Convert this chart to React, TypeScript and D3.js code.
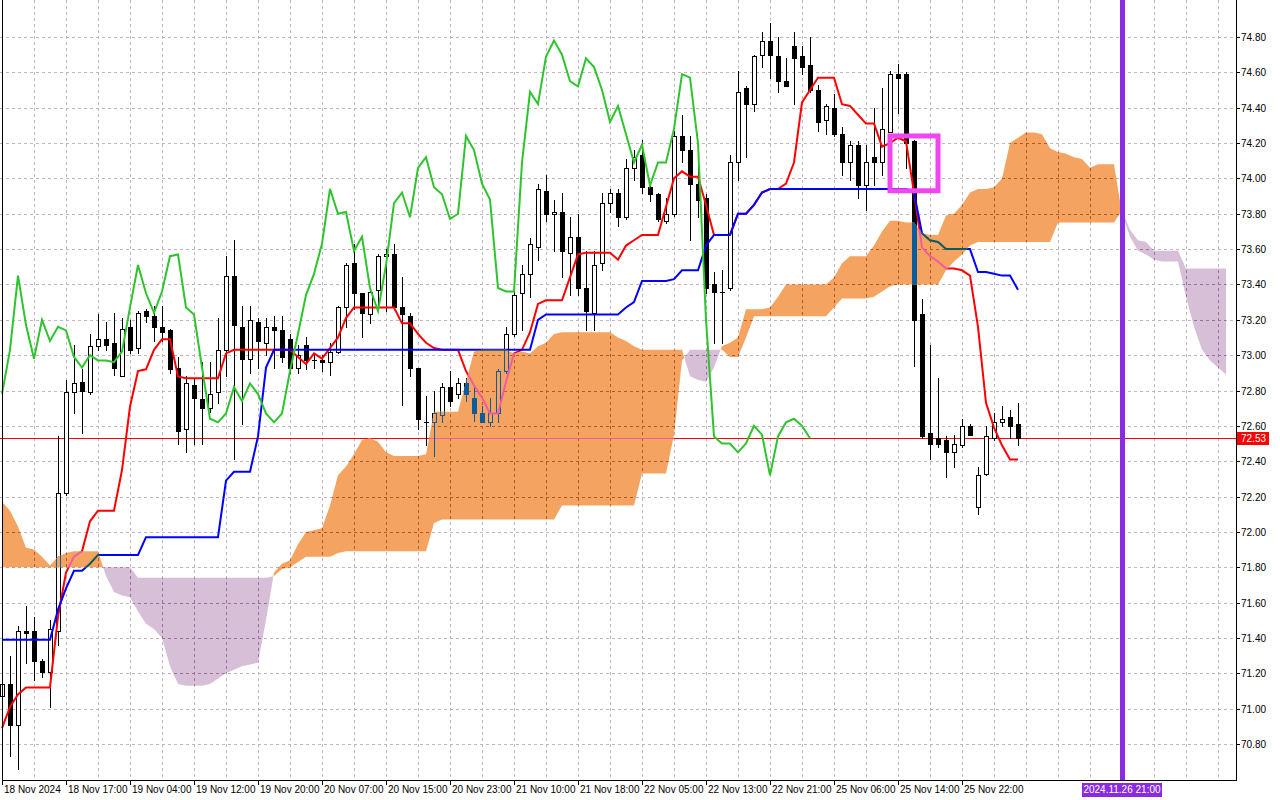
import { useEffect, useRef } from "react";
import * as d3 from "d3";

// hourly candles, bar index 0 = 18 Nov 2024 start of view
const OPEN = [
  71.07, 71.14, 70.91, 71.44, 71.44, 71.27, 71.21, 71.44, 72.22, 72.79, 72.85, 72.79, 73.05, 73.09, 73.07, 72.88,
  73.16, 73.04, 73.25, 73.22, 73.16, 73.14, 72.93, 72.58, 72.83, 72.75, 72.7, 72.79, 73.03, 73.45, 73.16, 72.98,
  73.19, 73.07, 73.16, 73.14, 73.09, 72.93, 73.06, 72.97, 72.97, 72.96, 73.02, 73.27, 73.52, 73.35, 73.23, 73.37,
  73.56, 73.57, 73.27, 73.22, 72.93, 72.62, 72.62, 72.66, 72.82, 72.78, 72.84, 72.76, 72.67, 72.62, 72.67, 72.91,
  73.12, 73.35, 73.46, 73.61, 73.93, 73.8, 73.81, 73.58, 73.67, 73.38, 73.24, 73.52, 73.86, 73.92, 73.78, 74.06,
  74.13, 73.95, 73.91, 73.76, 73.8, 74.24, 74.16, 73.97, 73.89, 73.4, 73.36, 73.38, 74.09, 74.51, 74.42, 74.7,
  74.78, 74.69, 74.55, 74.75, 74.69, 74.64, 74.5, 74.33, 74.4, 74.25, 74.09, 74.19, 73.96, 74.12, 74.09, 74.26,
  74.59, 74.59, 74.21, 73.23, 72.56, 72.53, 72.52, 72.45, 72.49, 72.6, 72.14, 72.33, 72.53, 72.62, 72.65, 72.61,
];
const HIGH = [
  71.17, 71.3, 71.47, 71.58, 71.52, 71.28, 71.5, 72.54, 72.86, 73.06, 72.92, 73.12, 73.23, 73.19, 73.24, 73.21,
  73.2, 73.25, 73.26, 73.28, 73.28, 73.15, 72.99, 72.88, 72.87, 72.96, 72.96, 73.21, 73.56, 73.65, 73.28, 73.28,
  73.21, 73.21, 73.22, 73.22, 73.12, 73.06, 73.1, 73.0, 73.0, 73.07, 73.28, 73.52, 73.63, 73.35, 73.37, 73.57,
  73.6, 73.63, 73.44, 73.24, 72.93, 72.77, 72.8, 72.84, 72.91, 72.87, 72.87, 72.82, 72.71, 72.76, 72.92, 73.16,
  73.36, 73.51, 73.66, 73.97, 74.02, 73.88, 73.92, 73.78, 73.8, 73.59, 73.59, 73.92, 73.94, 73.94, 74.11, 74.16,
  74.22, 73.96, 73.92, 73.89, 74.27, 74.36, 74.24, 74.07, 73.91, 73.47, 73.48, 74.13, 74.61, 74.52, 74.7, 74.83,
  74.88, 74.8, 74.68, 74.83, 74.75, 74.8, 74.53, 74.42, 74.48, 74.29, 74.21, 74.21, 74.19, 74.4, 74.51, 74.61,
  74.65, 74.6, 74.22, 73.32, 73.06, 72.87, 72.54, 72.55, 72.64, 72.61, 72.37, 72.6, 72.67, 72.71, 72.69, 72.73,
];
const LOW = [
  70.98, 70.73, 70.66, 71.26, 71.16, 71.18, 71.01, 71.36, 72.21, 72.67, 72.56, 72.78, 73.03, 73.03, 72.89, 72.88,
  73.01, 73.01, 73.19, 73.08, 73.08, 72.9, 72.5, 72.45, 72.5, 72.5, 72.68, 72.73, 72.88, 72.41, 72.61, 72.9,
  72.93, 73.0, 72.93, 72.96, 72.9, 72.9, 72.92, 72.93, 72.91, 72.89, 73.01, 73.16, 73.26, 73.1, 73.18, 73.27,
  73.25, 73.26, 72.72, 72.88, 72.58, 72.49, 72.43, 72.62, 72.71, 72.76, 72.74, 72.63, 72.62, 72.6, 72.62, 72.9,
  73.11, 73.14, 73.33, 73.54, 73.76, 73.59, 73.44, 73.34, 73.34, 73.14, 73.14, 73.48, 73.81, 73.73, 73.77, 73.99,
  73.92, 73.87, 73.76, 73.75, 73.79, 74.09, 73.65, 73.78, 73.35, 73.07, 73.07, 73.37, 73.99, 74.12, 74.38, 74.63,
  74.57, 74.49, 74.52, 74.42, 74.59, 74.49, 74.27, 74.25, 74.24, 74.02, 73.99, 73.89, 73.82, 73.96, 74.02, 74.26,
  74.37, 74.06, 72.94, 72.53, 72.41, 72.48, 72.31, 72.37, 72.48, 72.55, 72.1, 72.32, 72.52, 72.6, 72.53, 72.49,
];
const CLOSE = [
  71.14, 70.91, 71.44, 71.43, 71.27, 71.21, 71.45, 72.22, 72.79, 72.84, 72.8, 73.05, 73.09, 73.06, 72.93, 73.15,
  73.03, 73.24, 73.22, 73.16, 73.13, 72.92, 72.57, 72.84, 72.76, 72.7, 72.78, 73.03, 73.45, 73.17, 72.98, 73.2,
  73.08, 73.16, 73.14, 72.99, 72.93, 73.0, 72.97, 72.97, 72.96, 73.02, 73.27, 73.51, 73.35, 73.24, 73.36, 73.56,
  73.57, 73.27, 73.23, 72.93, 72.64, 72.62, 72.67, 72.82, 72.74, 72.84, 72.78, 72.67, 72.62, 72.67, 72.91, 73.12,
  73.34, 73.46, 73.63, 73.94, 73.8, 73.81, 73.59, 73.67, 73.38, 73.25, 73.51, 73.86, 73.92, 73.78, 74.06, 74.12,
  73.95, 73.91, 73.77, 73.8, 74.24, 74.16, 73.97, 73.88, 73.38, 73.36, 73.36, 74.09, 74.49, 74.42, 74.69, 74.78,
  74.7, 74.55, 74.52, 74.68, 74.63, 74.5, 74.32, 74.41, 74.25, 74.09, 74.19, 73.96, 74.09, 74.09, 74.28, 74.59,
  74.57, 74.2, 73.2, 72.54, 72.5, 72.5, 72.45, 72.5, 72.6, 72.55, 72.32, 72.54, 72.62, 72.64, 72.6, 72.53,
];

// Ichimoku lines
const TENKAN = [
  70.89, 71.01, 71.08, 71.12, 71.12, 71.12, 71.12, 71.52, 71.77, 71.86, 71.89, 72.06, 72.12, 72.12, 72.12, 72.35,
  72.71, 72.91, 72.92, 73.03, 73.09, 73.09, 72.88, 72.87, 72.87, 72.87, 72.87, 72.87, 73.01, 73.03, 73.03, 73.03,
  73.03, 73.03, 73.03, 73.03, 73.03, 72.99, 72.95, 73.01, 72.98, 73.04, 73.1, 73.21, 73.27, 73.27, 73.27, 73.27,
  73.27, 73.27, 73.18, 73.18, 73.12, 73.07, 73.04, 73.03, 73.03, 73.03, 72.91, 72.83, 72.76, 72.67, 72.67, 72.85,
  73.01, 73.03, 73.13, 73.29, 73.31, 73.31, 73.31, 73.44, 73.57, 73.58, 73.58, 73.58, 73.58, 73.54, 73.62, 73.65,
  73.68, 73.68, 73.68, 73.84, 74.0, 74.04, 74.01, 74.01, 73.85, 73.68, 73.68, 73.68, 73.8, 73.8, 73.85, 73.92,
  73.94, 73.94, 73.97, 74.09, 74.43, 74.5, 74.57, 74.57, 74.57, 74.42, 74.41, 74.36, 74.31, 74.31, 74.18, 74.2,
  74.23, 74.21, 73.92, 73.61, 73.56, 73.53, 73.49, 73.49, 73.48, 73.45, 73.16, 72.73, 72.59, 72.49, 72.41, 72.41,
];
const KIJUN = [
  71.39, 71.39, 71.39, 71.39, 71.39, 71.39, 71.39, 71.56, 71.68, 71.78, 71.78, 71.82, 71.87, 71.87, 71.87, 71.87,
  71.87, 71.87, 71.97, 71.97, 71.97, 71.97, 71.97, 71.97, 71.97, 71.97, 71.97, 71.97, 72.29, 72.34, 72.34, 72.34,
  72.54, 72.93, 73.03, 73.03, 73.03, 73.03, 73.03, 73.03, 73.03, 73.03, 73.03, 73.03, 73.03, 73.03, 73.03, 73.03,
  73.03, 73.03, 73.03, 73.03, 73.03, 73.03, 73.03, 73.03, 73.03, 73.03, 73.03, 73.03, 73.03, 73.03, 73.03, 73.03,
  73.03, 73.03, 73.03, 73.2, 73.23, 73.23, 73.23, 73.23, 73.23, 73.23, 73.23, 73.23, 73.23, 73.23, 73.27, 73.3,
  73.42, 73.42, 73.42, 73.42, 73.43, 73.48, 73.48, 73.48, 73.62, 73.68, 73.68, 73.68, 73.8, 73.8, 73.85, 73.92,
  73.94, 73.94, 73.94, 73.94, 73.94, 73.94, 73.94, 73.94, 73.94, 73.94, 73.94, 73.94, 73.94, 73.94, 73.94, 73.94,
  73.94, 73.94, 73.92, 73.69, 73.65, 73.64, 73.6, 73.6, 73.6, 73.6, 73.47, 73.47, 73.46, 73.45, 73.45, 73.37,
];
// cloud spans, already projected 26 bars ahead (bars 0..153)
const SPAN_A = [
  72.17, 72.12, 72.03, 71.91, 71.9, 71.86, 71.81, 71.86, 71.88, 71.89, 71.89, 71.89, 71.89, 71.75, 71.66, 71.64,
  71.63, 71.55, 71.48, 71.45, 71.4, 71.24, 71.14, 71.13, 71.13, 71.13, 71.14, 71.17, 71.2, 71.22, 71.24, 71.25,
  71.26, 71.5, 71.77, 71.82, 71.84, 71.93, 72.0, 72.01, 72.02, 72.15, 72.32, 72.37, 72.44, 72.52, 72.53, 72.51,
  72.45, 72.43, 72.43, 72.43, 72.43, 72.44, 72.68, 72.68, 72.68, 72.68, 72.85, 73.02, 73.03, 73.03, 73.03, 73.03,
  73.01, 73.02, 73.01, 73.05, 73.07, 73.12, 73.13, 73.13, 73.13, 73.13, 73.13, 73.13, 73.13, 73.1, 73.08, 73.05,
  73.03, 73.03, 73.03, 73.03, 73.03, 73.03, 72.88, 72.86, 72.85, 72.93, 73.05, 73.07, 73.1, 73.26, 73.26, 73.26,
  73.27, 73.33, 73.4, 73.4, 73.4, 73.4, 73.4, 73.4, 73.44, 73.52, 73.56, 73.56, 73.56, 73.62, 73.7, 73.76,
  73.76, 73.75, 73.75, 73.69, 73.68, 73.68, 73.79, 73.8, 73.85, 73.92, 73.94, 73.94, 73.95, 74.0, 74.2, 74.23,
  74.26, 74.26, 74.25, 74.17, 74.15, 74.14, 74.12, 74.11, 74.06, 74.08, 74.08, 74.08, 73.8, 73.67, 73.59, 73.57,
  73.54, 73.53, 73.53, 73.53, 73.33, 73.16, 73.03, 72.97, 72.93, 72.89,
];
const SPAN_B = [
  71.8, 71.8, 71.8, 71.8, 71.8, 71.8, 71.8, 71.8, 71.8, 71.8, 71.8, 71.8, 71.8, 71.8, 71.8, 71.8,
  71.8, 71.74, 71.74, 71.74, 71.74, 71.74, 71.74, 71.74, 71.74, 71.74, 71.74, 71.74, 71.74, 71.74, 71.74, 71.74,
  71.74, 71.74, 71.75, 71.79, 71.8, 71.83, 71.86, 71.86, 71.86, 71.86, 71.88, 71.89, 71.89, 71.89, 71.89, 71.89,
  71.89, 71.89, 71.89, 71.89, 71.89, 71.89, 72.05, 72.07, 72.07, 72.07, 72.07, 72.07, 72.07, 72.07, 72.07, 72.07,
  72.07, 72.07, 72.07, 72.07, 72.07, 72.07, 72.15, 72.15, 72.15, 72.15, 72.15, 72.15, 72.15, 72.15, 72.15, 72.15,
  72.33, 72.33, 72.33, 72.33, 72.55, 72.97, 73.03, 73.03, 73.03, 73.03, 73.03, 72.99, 72.99, 73.1, 73.22, 73.22,
  73.22, 73.22, 73.22, 73.22, 73.22, 73.22, 73.22, 73.22, 73.27, 73.32, 73.32, 73.32, 73.32, 73.33, 73.36, 73.39,
  73.4, 73.4, 73.4, 73.4, 73.4, 73.4, 73.48, 73.53, 73.57, 73.62, 73.64, 73.64, 73.64, 73.64, 73.64, 73.64,
  73.64, 73.64, 73.64, 73.64, 73.75, 73.75, 73.75, 73.75, 73.75, 73.75, 73.75, 73.75, 73.82, 73.71, 73.65, 73.64,
  73.59, 73.59, 73.59, 73.59, 73.49, 73.49, 73.49, 73.49, 73.49, 73.49,
];
const CHIKOU_SHIFT = 26;

const PRICE_TICKS = [
  70.8, 71.0, 71.2, 71.4, 71.6, 71.8, 72.0, 72.2, 72.4, 72.6, 72.8, 73.0, 73.2, 73.4, 73.6, 73.8, 74.0, 74.2, 74.4,
  74.6, 74.8,
];
// one label every 8 bars
const TIME_LABELS = [
  "18 Nov 2024", "18 Nov 17:00", "19 Nov 04:00", "19 Nov 12:00", "19 Nov 20:00", "20 Nov 07:00", "20 Nov 15:00",
  "20 Nov 23:00", "21 Nov 10:00", "21 Nov 18:00", "22 Nov 05:00", "22 Nov 13:00", "22 Nov 21:00", "25 Nov 06:00",
  "25 Nov 14:00", "25 Nov 22:00",
];
const BID = 72.53;
const MARK_BOX = { from: 111, to: 117, top: 74.24, bottom: 73.93 };
const VLINE_BAR = 140;
const VLINE_LABEL = "2024.11.26 21:00";

const W = 1280;
const H = 800;
const PLOT_R = 1236;
const PLOT_B = 780;
const FONT = "'Liberation Sans', Arial, sans-serif";

// cloud is painted like a XOR fill: colour under it = |colour - key|
const KEY_UP = d3.rgb(11, 91, 159); // white -> sandy brown
const KEY_DOWN = d3.rgb(39, 64, 39); // white -> thistle

type CloudPt = { i: number; a: number; b: number };

function cloudRuns() {
  const runs: { bull: boolean; pts: CloudPt[] }[] = [];
  let cur: { bull: boolean; pts: CloudPt[] } | null = null;
  SPAN_A.forEach((a, i) => {
    const p = { i, a, b: SPAN_B[i] };
    const bull = a >= p.b;
    if (!cur) {
      cur = { bull, pts: [p] };
      runs.push(cur);
      return;
    }
    if (bull === cur.bull) {
      cur.pts.push(p);
      return;
    }
    const prev = cur.pts[cur.pts.length - 1];
    const d0 = prev.a - prev.b;
    const d1 = p.a - p.b;
    const t = d0 / (d0 - d1);
    const v = prev.a + (p.a - prev.a) * t;
    const cross = { i: prev.i + t, a: v, b: v };
    cur.pts.push(cross);
    cur = { bull, pts: [cross, p] };
    runs.push(cur);
  });
  return runs;
}

const xorWith = (key: d3.RGBColor) => (c: string) => {
  const k = d3.rgb(c);
  return d3.rgb(Math.abs(k.r - key.r), Math.abs(k.g - key.g), Math.abs(k.b - key.b)).formatHex();
};

export default function App() {
  const svgRef = useRef<SVGSVGElement>(null);

  useEffect(() => {
    const svg = d3.select(svgRef.current!);
    svg.selectAll("*").remove();

    const x = d3.scaleLinear().domain([0, 153]).range([2, 1226]);
    const y = d3.scaleLinear().domain([70.8, 74.8]).range([744, 37]);
    const px = (i: number) => Math.round(x(i));
    const py = (v: number) => Math.round(y(v));

    const line = d3
      .line<number>()
      .x((_, i) => x(i))
      .y((d) => y(d));
    const area = d3
      .area<CloudPt>()
      .x((d) => x(d.i))
      .y0((d) => y(d.b))
      .y1((d) => y(d.a));
    const runs = cloudRuns();

    const defs = svg.append("defs");
    defs
      .append("clipPath")
      .attr("id", "plot")
      .append("rect")
      .attr("width", PLOT_R)
      .attr("height", PLOT_B);
    defs
      .append("clipPath")
      .attr("id", "cloud-up")
      .selectAll("path")
      .data(runs.filter((r) => r.bull))
      .join("path")
      .attr("d", (r) => area(r.pts));
    defs
      .append("clipPath")
      .attr("id", "cloud-down")
      .selectAll("path")
      .data(runs.filter((r) => !r.bull))
      .join("path")
      .attr("d", (r) => area(r.pts));

    // everything that sits under the cloud, drawn once plain and once per cloud colour
    function drawBase(g: d3.Selection<SVGGElement, unknown, null, undefined>, col: (c: string) => string) {
      g.append("rect").attr("width", PLOT_R).attr("height", PLOT_B).attr("fill", col("#ffffff"));

      const grid = g.append("g").attr("stroke", col("#c2b2c2")).attr("stroke-dasharray", "3,3");
      grid
        .selectAll("line.h")
        .data(PRICE_TICKS)
        .join("line")
        .attr("x1", 0)
        .attr("x2", PLOT_R)
        .attr("y1", (d) => py(d) + 0.5)
        .attr("y2", (d) => py(d) + 0.5);
      grid
        .selectAll("line.v")
        .data(d3.range(4, 153, 4))
        .join("line")
        .attr("y1", 0)
        .attr("y2", PLOT_B)
        .attr("x1", (d) => px(d) + 0.5)
        .attr("x2", (d) => px(d) + 0.5);

      g.append("line")
        .attr("x1", 0)
        .attr("x2", PLOT_R)
        .attr("y1", py(BID) + 0.5)
        .attr("y2", py(BID) + 0.5)
        .attr("stroke", col("#ff0000"));

      const ink = col("#000000");
      const paper = col("#ffffff");
      const candles = g
        .append("g")
        .selectAll("g")
        .data(OPEN.map((o, i) => ({ i, o, h: HIGH[i], l: LOW[i], c: CLOSE[i] })))
        .join("g");
      candles
        .append("line")
        .attr("x1", (d) => px(d.i) + 0.5)
        .attr("x2", (d) => px(d.i) + 0.5)
        .attr("y1", (d) => py(d.h))
        .attr("y2", (d) => py(d.l) + 1)
        .attr("stroke", ink);
      candles.each(function (d) {
        const c = d3.select(this);
        const cx = px(d.i);
        const top = py(Math.max(d.o, d.c));
        const bot = py(Math.min(d.o, d.c));
        if (bot - top < 1) {
          c.append("line")
            .attr("x1", cx - 2)
            .attr("x2", cx + 3)
            .attr("y1", top + 0.5)
            .attr("y2", top + 0.5)
            .attr("stroke", ink);
        } else if (d.c >= d.o) {
          c.append("rect")
            .attr("x", cx - 1.5)
            .attr("y", top + 0.5)
            .attr("width", 4)
            .attr("height", bot - top)
            .attr("fill", paper)
            .attr("stroke", ink);
        } else {
          c.append("rect")
            .attr("x", cx - 2)
            .attr("y", top)
            .attr("width", 5)
            .attr("height", bot - top + 1)
            .attr("fill", ink);
        }
      });

      g.append("path").datum(TENKAN).attr("d", line).attr("fill", "none").attr("stroke", col("#ff0000")).attr("stroke-width", 2);
      g.append("path").datum(KIJUN).attr("d", line).attr("fill", "none").attr("stroke", col("#0000ff")).attr("stroke-width", 2);
    }

    const plot = svg.append("g").attr("clip-path", "url(#plot)");
    drawBase(plot.append("g"), (c) => c);
    drawBase(plot.append("g").attr("clip-path", "url(#cloud-up)"), xorWith(KEY_UP));
    drawBase(plot.append("g").attr("clip-path", "url(#cloud-down)"), xorWith(KEY_DOWN));

    // chikou: close shifted back
    const chikou = CLOSE.map((c, i) => [i - CHIKOU_SHIFT, c] as [number, number]).filter((d) => d[0] >= 0);
    plot
      .append("path")
      .datum(chikou)
      .attr(
        "d",
        d3
          .line<[number, number]>()
          .x((d) => x(d[0]))
          .y((d) => y(d[1]))
      )
      .attr("fill", "none")
      .attr("stroke", "#2ec42e")
      .attr("stroke-width", 2);

    // objects
    plot
      .append("rect")
      .attr("x", x(MARK_BOX.from))
      .attr("y", y(MARK_BOX.top))
      .attr("width", x(MARK_BOX.to) - x(MARK_BOX.from))
      .attr("height", y(MARK_BOX.bottom) - y(MARK_BOX.top))
      .attr("fill", "none")
      .attr("stroke", "#f046f0")
      .attr("stroke-width", 5);
    plot
      .append("line")
      .attr("x1", px(VLINE_BAR) + 0.5)
      .attr("x2", px(VLINE_BAR) + 0.5)
      .attr("y1", 0)
      .attr("y2", PLOT_B)
      .attr("stroke", "#8a2be2")
      .attr("stroke-width", 5);

    // frame and axes
    svg.append("rect").attr("x", PLOT_R + 1).attr("y", 0).attr("width", W - PLOT_R).attr("height", H).attr("fill", "#fff");
    svg.append("rect").attr("x", 0).attr("y", PLOT_B + 1).attr("width", W).attr("height", H - PLOT_B).attr("fill", "#fff");
    const axis = svg.append("g").attr("stroke", "#000").attr("stroke-width", 1);
    axis.append("line").attr("x1", 2.5).attr("x2", 2.5).attr("y1", 0).attr("y2", PLOT_B);
    axis.append("line").attr("x1", PLOT_R + 0.5).attr("x2", PLOT_R + 0.5).attr("y1", 0).attr("y2", PLOT_B + 1);
    axis.append("line").attr("x1", 2).attr("x2", PLOT_R + 1).attr("y1", PLOT_B + 0.5).attr("y2", PLOT_B + 0.5);
    axis
      .selectAll("line.yt")
      .data(PRICE_TICKS)
      .join("line")
      .attr("x1", PLOT_R)
      .attr("x2", PLOT_R + 4)
      .attr("y1", (d) => py(d) + 0.5)
      .attr("y2", (d) => py(d) + 0.5);
    axis
      .selectAll("line.xt")
      .data(TIME_LABELS)
      .join("line")
      .attr("x1", (_, k) => px(k * 8) + 0.5)
      .attr("x2", (_, k) => px(k * 8) + 0.5)
      .attr("y1", PLOT_B)
      .attr("y2", PLOT_B + 5);

    const text = svg.append("g").attr("font-family", FONT).attr("font-size", 10).attr("fill", "#000");
    text
      .selectAll("text.y")
      .data(PRICE_TICKS)
      .join("text")
      .attr("x", PLOT_R + 5)
      .attr("y", (d) => py(d) + 4)
      .text((d) => d.toFixed(2));
    text
      .selectAll("text.x")
      .data(TIME_LABELS)
      .join("text")
      .attr("x", (_, k) => px(k * 8) + 2)
      .attr("y", PLOT_B + 13)
      .text((d) => d);

    // bid price tag
    const bidY = py(BID);
    svg.append("rect").attr("x", PLOT_R + 1).attr("y", bidY - 6).attr("width", 32).attr("height", 13).attr("fill", "#ff0000");
    svg
      .append("text")
      .attr("x", PLOT_R + 5)
      .attr("y", bidY + 4)
      .attr("font-family", FONT)
      .attr("font-size", 10)
      .attr("fill", "#fff")
      .text(BID.toFixed(2));

    // vertical line time tag
    const vx = px(VLINE_BAR);
    svg.append("rect").attr("x", vx - 40).attr("y", PLOT_B + 3).attr("width", 80).attr("height", 14).attr("fill", "#8a2be2");
    svg
      .append("text")
      .attr("x", vx)
      .attr("y", PLOT_B + 13)
      .attr("text-anchor", "middle")
      .attr("font-family", FONT)
      .attr("font-size", 10)
      .attr("fill", "#fff")
      .text(VLINE_LABEL);
  }, []);

  return (
    <div style={{ position: "absolute", left: 0, top: 0 }}>
      <svg ref={svgRef} width={W} height={H} style={{ display: "block" }} />
    </div>
  );
}
